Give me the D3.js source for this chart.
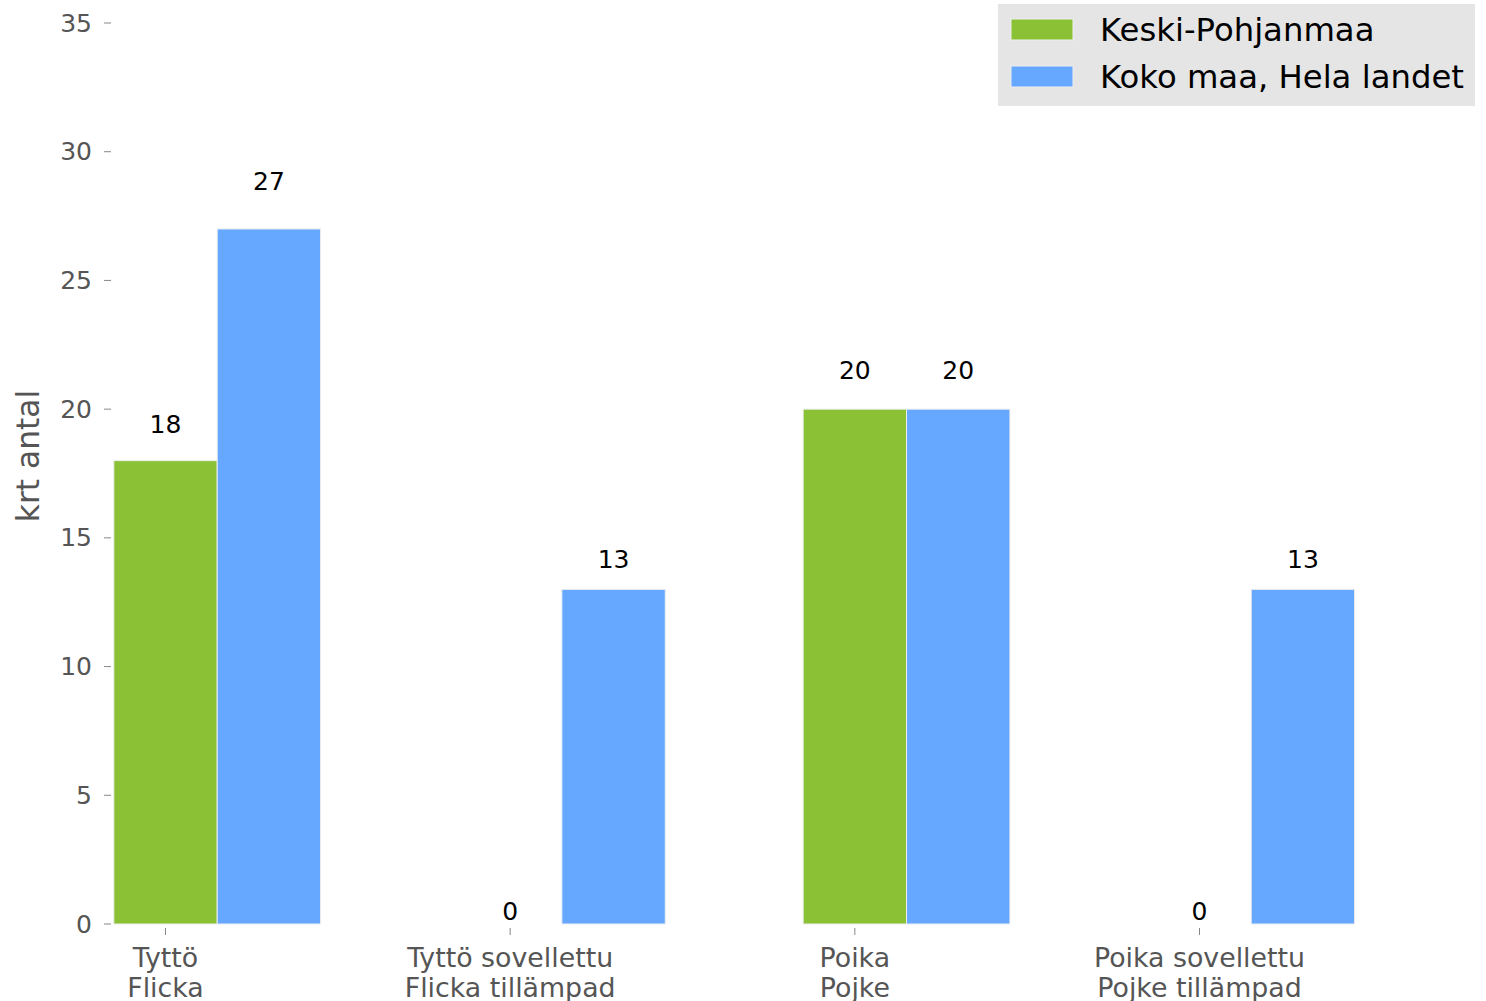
<!DOCTYPE html>
<html><head><meta charset="utf-8">
<script src="https://cdn.jsdelivr.net/npm/d3@7"></script>
<style>body{margin:0;background:#fff;} svg{display:block;font-family:"DejaVu Sans",sans-serif;}</style>
</head><body>
<svg id="chart" width="1486" height="1001"></svg>
<script>
const categories = [["Tyttö","Flicka"],["Tyttö sovellettu","Flicka tillämpad"],["Poika","Pojke"],["Poika sovellettu","Pojke tillämpad"]];
const seriesNames = ["Keski-Pohjanmaa","Koko maa, Hela landet"];
const keskiPohjanmaa = [18, 0, 20, 0];
const kokoMaa = [27, 13, 20, 13];
const yTicks = [0,5,10,15,20,25,30,35];
const colors = ["#8bc235","#66a8ff"];

const svg = d3.select("#chart");
const x = d3.scaleLinear().domain([0,3]).range([165.5,1199.5]);
const y = d3.scaleLinear().domain([0,35]).range([924,23]);
const bw = 0.3;

const series = [keskiPohjanmaa, kokoMaa];
series.forEach((vals, s) => {
  const g = svg.append("g");
  g.selectAll("rect").data(vals).join("rect")
    .attr("x", (d,i) => x(i - bw/2 + s*bw))
    .attr("width", x(bw) - x(0))
    .attr("y", d => y(d))
    .attr("height", d => y(0) - y(d))
    .attr("fill", colors[s])
    .attr("stroke", d => d > 0 ? "#eeeeee" : "none")
    .attr("stroke-width", 1);
  g.selectAll("text").data(vals).join("text")
    .attr("x", (d,i) => x(i + s*bw))
    .attr("y", d => y(d*1.05 + 0.5))
    .attr("text-anchor","middle")
    .attr("dominant-baseline","central")
    .attr("font-size", 25)
    .attr("fill","#000")
    .text(d => d);
});

// y axis ticks
const ya = svg.append("g");
ya.selectAll("line").data(yTicks).join("line")
  .attr("x1",104).attr("x2",111)
  .attr("y1", d => y(d)).attr("y2", d => y(d))
  .attr("stroke","#888").attr("stroke-width",1);
ya.selectAll("text").data(yTicks).join("text")
  .attr("x",92).attr("y", d => y(d))
  .attr("text-anchor","end").attr("dominant-baseline","central")
  .attr("font-size",25).attr("fill","#555")
  .text(d => d);

// x axis ticks
const xa = svg.append("g");
xa.selectAll("line").data(categories).join("line")
  .attr("x1",(d,i)=>x(i)).attr("x2",(d,i)=>x(i))
  .attr("y1",928).attr("y2",935)
  .attr("stroke","#888").attr("stroke-width",1);
const xt = xa.selectAll("text").data(categories).join("text")
  .attr("x",(d,i)=>x(i)).attr("y",957)
  .attr("text-anchor","middle").attr("font-size",26.8).attr("fill","#555");
xt.each(function(d,i){
  const t = d3.select(this);
  d.forEach((line,j)=>{
    t.append("tspan").attr("x",x(i)).attr("y",957 + j*30)
      .attr("dominant-baseline","central").text(line);
  });
});

// y label
svg.append("text")
  .attr("transform","translate(28,456) rotate(-90)")
  .attr("text-anchor","middle").attr("dominant-baseline","central")
  .attr("font-size",31.3).attr("fill","#555")
  .text("krt antal");

// legend
const lg = svg.append("g");
lg.append("rect").attr("x",998).attr("y",4).attr("width",477).attr("height",102).attr("fill","#e5e5e5");
seriesNames.forEach((n,i)=>{
  lg.append("rect").attr("x",1011).attr("y",19+i*47).attr("width",62).attr("height",21)
    .attr("fill",colors[i]).attr("stroke","#eeeeee").attr("stroke-width",1);
  lg.append("text").attr("x",1100).attr("y",30+i*47)
    .attr("dominant-baseline","central").attr("font-size",32.3).attr("fill","#000").text(n);
});
</script>
</body></html>
